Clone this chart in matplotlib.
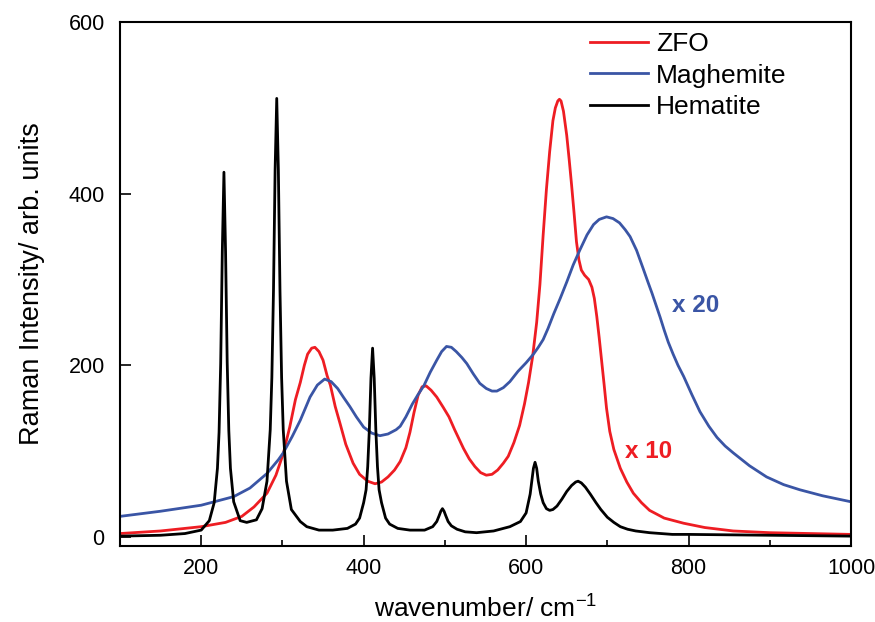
import matplotlib
matplotlib.use('Agg')
import matplotlib.pyplot as plt
from matplotlib.ticker import MultipleLocator

plt.rcParams['font.family'] = ['Liberation Sans', 'DejaVu Sans']

# curves (wavenumber, intensity)
zfo_x = [100, 150, 200, 230, 250, 265, 281, 292, 301, 309, 316, 322, 327,
         331, 336, 340, 345, 350, 355, 359, 365, 371, 378, 387, 395, 405,
         414, 422, 430, 438, 445, 452, 457, 462, 467, 472, 477, 483, 490,
         498, 505, 512, 518, 523, 530, 537, 544, 551, 558, 565, 572, 578,
         585, 592, 598, 603, 608, 613, 617, 621, 625, 629, 633, 636, 639,
         641, 643, 646, 650, 653, 656, 659, 662, 665, 668, 672, 677, 681,
         684, 687, 690, 693, 696, 699, 703, 708, 716, 724, 732, 742, 752,
         770, 794, 820, 855, 900, 950, 1000]
zfo_y = [4, 7, 12, 17, 24, 35, 51, 72, 97, 128, 160, 180, 200,
         213, 220, 221, 216, 206, 188, 177, 152, 132, 108, 86, 73, 65,
         62, 64, 70, 78, 88, 104, 122, 145, 165, 175, 176, 171, 163,
         151, 140, 125, 113, 103, 91, 82, 75, 72, 73, 78, 86, 94,
         110, 130, 155, 180, 210, 250, 294, 352, 405, 449, 485, 500, 508,
         510, 508, 496, 468, 440, 410, 378, 344, 323, 311, 305, 300, 291,
         278, 257, 232, 205, 178, 150, 123, 102, 80, 64, 51, 40, 31,
         22, 16, 11, 7, 5, 4, 3]

mag_x = [100, 150, 200, 240, 260, 281, 295, 301, 312, 322, 334, 343, 352,
         360, 368, 375, 383, 391, 400, 410, 420, 430, 440, 445, 452, 460,
         467, 474, 482, 490, 496, 502, 508, 514, 521, 527, 535, 543, 551,
         558, 564, 572, 580, 590, 600, 609, 615, 621, 627, 634, 642, 650,
         658, 666, 675, 683, 690, 699, 707, 715, 722, 728, 736, 744, 750,
         755, 760, 765, 770, 775, 781, 787, 794, 804, 814, 825, 835, 845,
         855, 875, 896, 917, 937, 965, 1000]
mag_y = [24, 30, 37, 47, 57, 74, 90, 98, 117, 136, 163, 177, 184,
         181, 173, 163, 152, 140, 128, 121, 118, 120, 125, 129, 140, 155,
         166, 176, 192, 206, 216, 222, 221, 216, 209, 202, 190, 179, 173,
         170, 170, 174, 181, 193, 203, 213, 221, 230, 243, 260, 278, 297,
         317, 334, 352, 364, 370, 373, 371, 366, 358, 350, 334, 313, 297,
         284, 270, 256, 241, 227, 213, 200, 187, 166, 146, 129, 116, 106,
         98, 83, 70, 61, 55, 48, 41]

hem_x = [100, 150, 180, 200, 210, 216, 220, 222, 224, 226, 228, 230, 232,
         234, 236, 240, 248, 256, 268, 275, 281, 285, 287, 289, 291, 293,
         295, 297, 299, 301, 305, 311, 322, 330, 345, 362, 380, 390, 395,
         400, 403, 405, 407, 409, 411, 413, 415, 417, 419, 422, 427, 432,
         442, 457, 475, 485, 490, 493, 495, 497, 499, 501, 504, 508, 515,
         525, 539, 560, 580, 593, 600, 605, 607, 609, 611, 613, 615, 618,
         621, 625, 629, 633, 638, 644, 650, 656, 661, 664, 668, 673, 679,
         686, 692, 700, 708, 716, 725, 735, 752, 780, 800, 900, 1000]
hem_y = [1, 2, 4, 8, 19, 40, 80, 122, 202, 333, 425, 333, 204,
         124, 80, 41, 19, 17, 20, 33, 65, 125, 186, 287, 428, 511,
         428, 287, 186, 125, 65, 32, 18, 12, 8, 8, 10, 15, 22,
         40, 55, 82, 125, 185, 220, 185, 125, 82, 55, 40, 22, 15,
         10, 8, 8, 12, 18, 25, 30, 33, 30, 25, 18, 13, 9,
         6, 5, 7, 12, 18, 28, 50, 65, 80, 87, 80, 65, 50,
         40, 33, 31, 32, 36, 44, 53, 60, 64, 65, 63, 58, 50,
         40, 32, 23, 17, 12, 9, 7, 5, 3, 3, 2, 1]

series_names = ['ZFO', 'Maghemite', 'Hematite']
series_cols = ['#ee1d23', '#3a55a5', 'black']

fig = plt.figure(figsize=(8.75, 6.22), dpi=100)
ax = fig.add_axes([0.1371, 0.1222, 0.8355, 0.8424])

ax.plot(zfo_x, zfo_y, color=series_cols[0], lw=2.0, label=series_names[0])
ax.plot(mag_x, mag_y, color=series_cols[1], lw=2.0, label=series_names[1])
ax.plot(hem_x, hem_y, color=series_cols[2], lw=2.0, label=series_names[2])

ax.set_xlim(100, 1000)
ax.set_ylim(-10.5, 600)
ax.xaxis.set_major_locator(MultipleLocator(200))
ax.xaxis.set_minor_locator(MultipleLocator(100))
ax.yaxis.set_major_locator(MultipleLocator(200))

for sp in ax.spines.values():
    sp.set_linewidth(1.5)
ax.tick_params(which='major', direction='in', length=8, width=1.2,
               labelsize=15.5, pad=9, top=False, right=False)
ax.tick_params(which='minor', direction='in', length=4, width=1.2,
               top=False, right=False)
ax.tick_params(axis='y', pad=11)

ax.set_xlabel('wavenumber/ cm$^{\\mathregular{-1}}$', fontsize=19, labelpad=10)
ax.set_ylabel('Raman Intensity/ arb. units', fontsize=19.5, labelpad=17)

ax.text(722, 100, 'x 10', color=series_cols[0], fontsize=17.5,
        fontweight='bold', va='center')
ax.text(779, 270, 'x 20', color=series_cols[1], fontsize=17.5,
        fontweight='bold', va='center')

ax.legend(loc='upper left', bbox_to_anchor=(0.643, 0.98), frameon=False,
          fontsize=19, handlelength=2.2, handletextpad=0.3,
          labelspacing=0.27, borderpad=0, borderaxespad=0)

fig.savefig('out.png', dpi=100)
